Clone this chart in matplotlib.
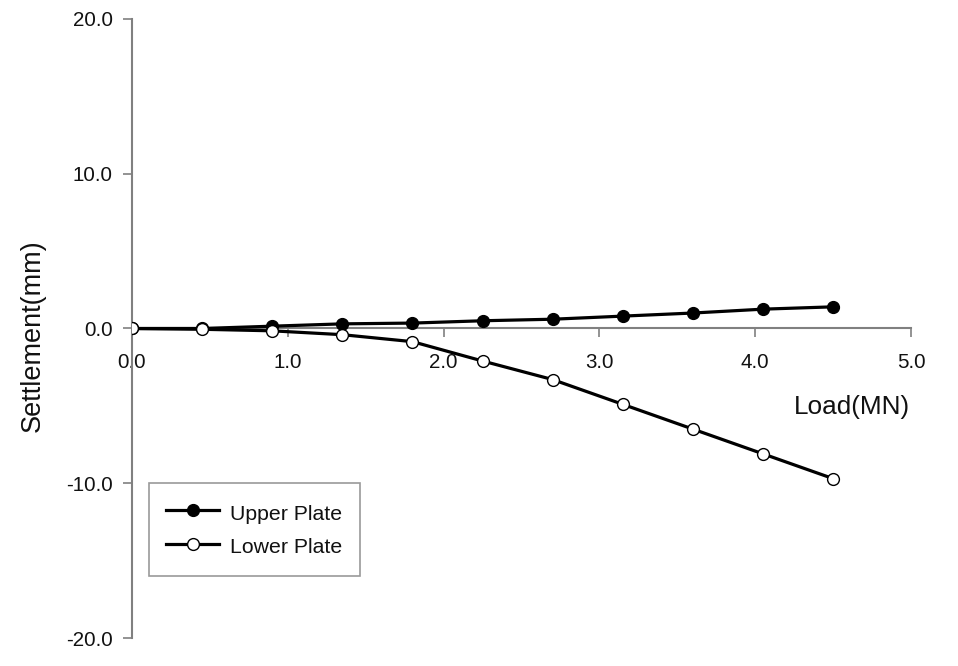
import matplotlib
matplotlib.use("Agg")
import matplotlib.pyplot as plt

plt.rcParams['font.family'] = ['Liberation Sans', 'DejaVu Sans']

load = [0.0, 0.45, 0.9, 1.35, 1.8, 2.25, 2.7, 3.15, 3.6, 4.05, 4.5]
upper = [0.0, 0.0, 0.15, 0.3, 0.35, 0.5, 0.6, 0.8, 1.0, 1.25, 1.4]
lower = [0.0, -0.05, -0.15, -0.4, -0.85, -2.1, -3.3, -4.9, -6.5, -8.1, -9.7]
xticks = [0.0, 1.0, 2.0, 3.0, 4.0, 5.0]
yticks = [-20.0, -10.0, 0.0, 10.0, 20.0]

fig = plt.figure(figsize=(9.58, 6.66), dpi=100)
ax = fig.add_axes([132/958, 1-638/666, (911-132)/958, (638-19)/666])

ax.plot(load, upper, color='black', lw=2.3, marker='o', ms=8.5,
        mfc='black', mec='black', mew=1.0, label='Upper Plate', zorder=3)
ax.plot(load, lower, color='black', lw=2.3, marker='o', ms=8.5,
        mfc='white', mec='black', mew=1.0, label='Lower Plate', zorder=4)

ax.set_xlim(0, 5.0)
ax.set_ylim(-20, 20)
ax.set_xticks(xticks)
ax.set_xticklabels([f"{v:.1f}" for v in xticks])
ax.set_yticks(yticks)
ax.set_yticklabels([f"{v:.1f}" for v in yticks])

for s in ['top', 'right']:
    ax.spines[s].set_visible(False)
ax.spines['left'].set_position(('data', 0))
ax.spines['bottom'].set_position(('data', 0))
for s in ['left', 'bottom']:
    ax.spines[s].set_color('#808080')
    ax.spines[s].set_linewidth(1.5)
ax.tick_params(axis='both', direction='out', length=6.5, width=1.2,
               color='#808080', labelsize=14.8, labelcolor='#111111')
ax.tick_params(axis='y', pad=7.5)
ax.tick_params(axis='x', pad=11)
ax.patch.set_visible(False)

ax.set_xlabel('Load(MN)', fontsize=18.8, color='#111111')
ax.xaxis.set_label_coords((852-132)/779, (638-395)/619)
ax.set_ylabel('Settlement(mm)', fontsize=19.5, color='#111111')
ax.yaxis.set_label_coords((46-132)/779, (638-336)/619)

leg = ax.legend(loc='upper left', bbox_to_anchor=(149/958, 1-483/666),
                bbox_transform=fig.transFigure, fontsize=15.3, frameon=True,
                fancybox=False, edgecolor='#808080', handlelength=2.5,
                handleheight=1.45, handletextpad=0.53, borderpad=0.8,
                labelspacing=0.4, borderaxespad=0)
leg.get_frame().set_linewidth(1.2)
leg.set_zorder(10)
for t in leg.get_texts():
    t.set_color('#111111')

fig.savefig('out.png', dpi=100)
